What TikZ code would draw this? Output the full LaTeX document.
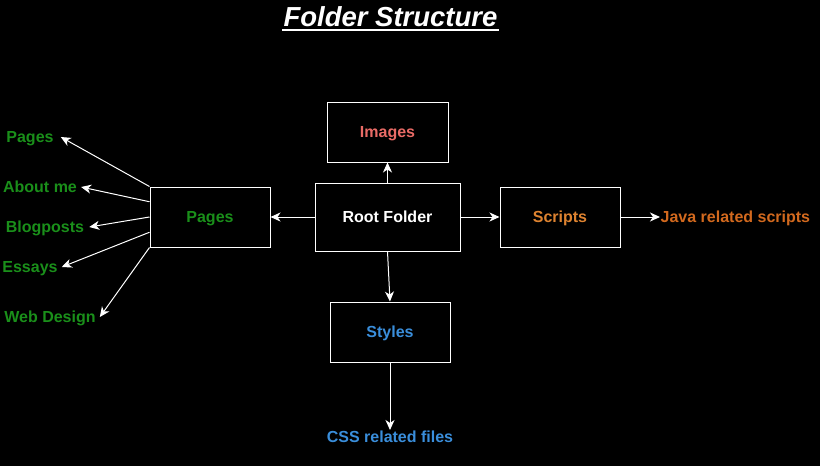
\documentclass[tikz,border=0pt]{standalone}
\usepackage{fontspec}
\setmainfont{Liberation Sans}
\usetikzlibrary{arrows.meta,calc}
\definecolor{pgreen}{RGB}{26,143,26}
\definecolor{pred}{RGB}{234,107,102}
\definecolor{porange}{RGB}{222,131,48}
\definecolor{pjava}{RGB}{210,105,30}
\definecolor{pblue}{RGB}{58,142,219}
\begin{document}
\begin{tikzpicture}[x=1pt,y=-1pt,
  lblfont/.style={font=\fontsize{16}{19}\selectfont\bfseries,text height=11.5pt,text depth=0pt},
  box/.style={draw=white,line width=1pt,fill=black,minimum width=120pt,minimum height=60pt,inner sep=0pt,lblfont},
  lbl/.style={inner xsep=5pt,inner ysep=1pt,lblfont},
  arr/.style={draw=white,line width=1pt,-{Stealth[length=10pt,width=9pt,inset=3pt]}}]
\fill[black] (0,0) rectangle (820,466);
\useasboundingbox (0,0) rectangle (820,466);
% title
\node[text=white,inner sep=0pt,font=\fontsize{27.5}{30}\selectfont\bfseries\itshape] (title) at (390.5,17) {Folder Structure};
\draw[white,line width=2pt] (282,30) -- (499,30);
% boxes
\node[box,text=white,minimum width=145pt,minimum height=68pt] (root) at (387.5,217) {Root Folder};
\node[box,text=pred,minimum width=121pt] (img) at (387.5,132) {Images};
\node[box,text=pgreen] (pg) at (210,217) {Pages};
\node[box,text=porange] (scr) at (560,217) {Scripts};
\node[box,text=pblue] (sty) at (390,332) {Styles};
% labels
\node[lbl,text=pgreen,inner xsep=7pt] (l1) at (30,137) {Pages};
\node[lbl,text=pgreen,inner xsep=4pt] (l2) at (40,187) {About me};
\node[lbl,text=pgreen,inner xsep=5pt] (l3) at (45,227) {Blogposts};
\node[lbl,text=pgreen,inner xsep=4pt] (l4) at (30,267) {Essays};
\node[lbl,text=pgreen,inner xsep=4pt] (l5) at (50,317) {Web Design};
\node[lbl,text=pjava,inner xsep=0.5pt,anchor=west] (java) at (660,217) {Java related scripts};
\node[lbl,text=pblue,inner ysep=1pt,anchor=north] (css) at (390,430) {CSS related files};
% connectors
\draw[arr] (root.north) -- (img.south);
\draw[arr] (root.west) -- (pg.east);
\draw[arr] (root.east) -- (scr.west);
\draw[arr] (root.south) -- (sty.north);
\draw[arr] (scr.east) -- (java.west);
\draw[arr] (sty.south) -- (css.north);
\draw[arr] (pg.north west) -- (l1.east);
\draw[arr] ($(pg.north west)!0.25!(pg.south west)$) -- (l2.east);
\draw[arr] (pg.west) -- (l3.east);
\draw[arr] ($(pg.north west)!0.75!(pg.south west)$) -- (l4.east);
\draw[arr] (pg.south west) -- (l5.east);
\end{tikzpicture}
\end{document}
